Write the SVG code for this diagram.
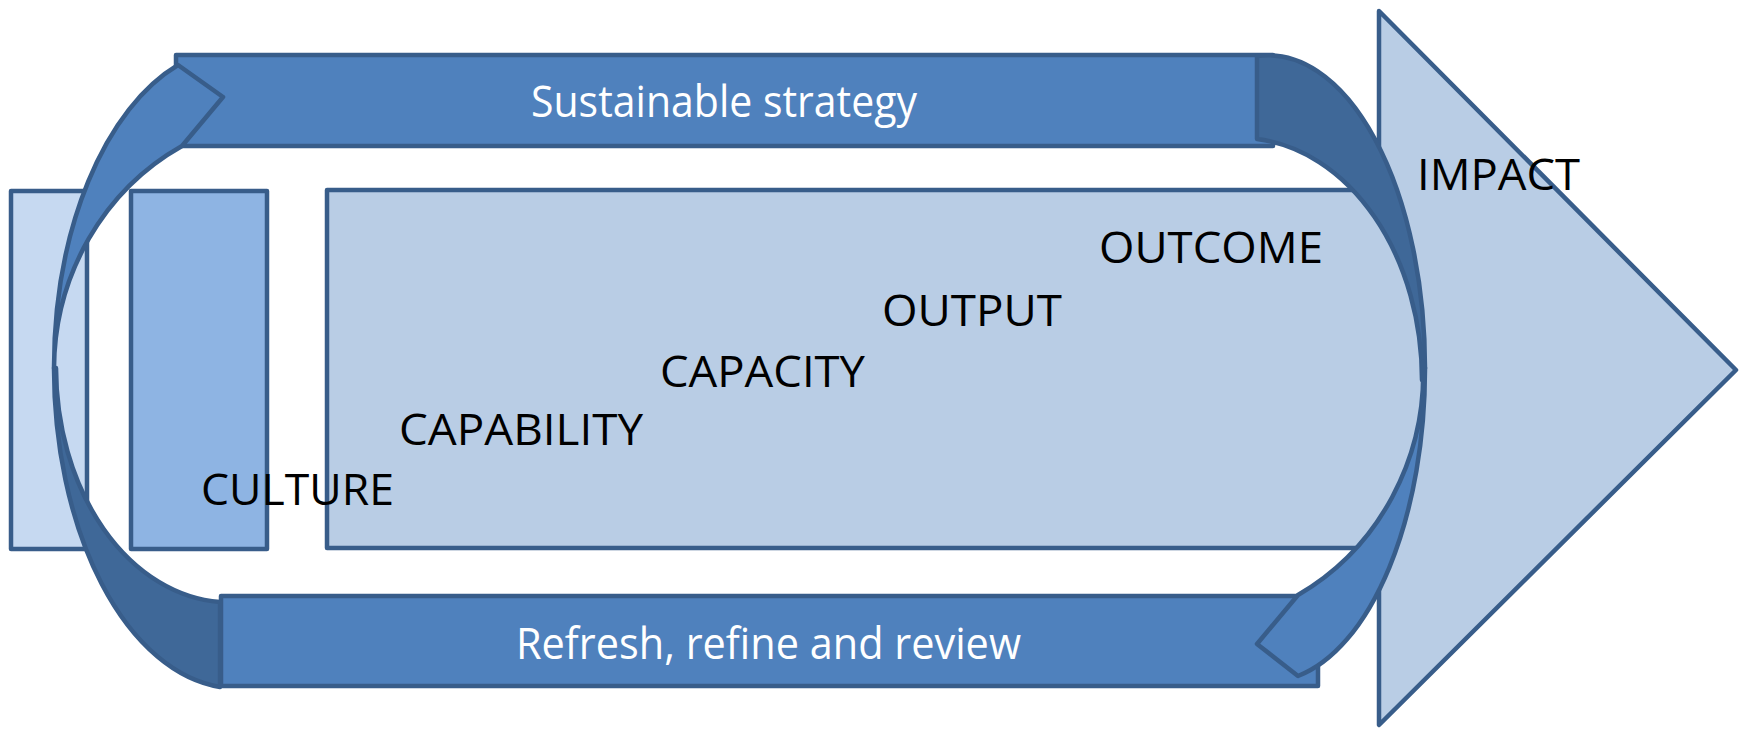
<svg xmlns="http://www.w3.org/2000/svg" width="1748" height="731" viewBox="0 0 1748 731">
<style>
.s{stroke:#385D8A;stroke-width:4.5;stroke-linejoin:round}
.lbl{font-family:"Open Sans","Liberation Sans",sans-serif;font-size:44px;fill:#000}
.wl{font-family:"Open Sans","Liberation Sans",sans-serif;font-size:43px;fill:#fff}
.bar{fill:#4F81BD}
.dark{fill:#3F6898}
.front{fill:#4F81BD}
</style>
<rect width="1748" height="731" fill="#fff"/>
<g id="impact-arrow"><polygon class="s" points="1379,11 1736,370 1379,725" fill="#B9CDE5"/></g>
<g id="rect-left"><rect class="s" x="11" y="191" width="76" height="358" fill="#C6D9F1"/></g>
<g id="rect-culture"><rect class="s" x="131" y="191" width="136" height="358" fill="#8EB4E3"/></g>
<g id="rect-main"><path class="s" d="M327,190 L1388,190 A168,290 0 0,1 1388,548 L327,548 Z" fill="#B9CDE5"/></g>
<g id="bar-top"><rect class="s bar" x="176" y="55" width="1097" height="91"/></g>
<g id="bar-bottom"><rect class="s bar" x="221" y="596" width="1097" height="90"/></g>
<g id="connectors">
<path class="s dark" d="M54,368 A183,320 0 0,0 220,687 L220,602 A174,235 0 0,1 56,368 Z"/>
<path class="s front" d="M178,65 A183,320 0 0,0 54,368 A244,254 0 0,1 182,146 L223,97 Z"/>
<path class="s dark" d="M1257,56 A157,313 0 0,1 1425,368 L1422,380 A182,242 0 0,0 1257,139 Z"/>
<path class="s front" d="M1425,368 A157,313 0 0,1 1298,676 L1257,644 L1298,595 A244,254 0 0,0 1423,362 Z"/>
</g>
<g id="text-strategy"><text class="wl" x="531" y="117" textLength="386" lengthAdjust="spacingAndGlyphs">Sustainable strategy</text></g>
<g id="text-refresh"><text class="wl" x="516" y="659" textLength="505" lengthAdjust="spacingAndGlyphs">Refresh, refine and review</text></g>
<g id="text-culture"><text class="lbl" x="201" y="505" textLength="193" lengthAdjust="spacingAndGlyphs">CULTURE</text></g>
<g id="text-capability"><text class="lbl" x="399" y="445" textLength="244" lengthAdjust="spacingAndGlyphs">CAPABILITY</text></g>
<g id="text-capacity"><text class="lbl" x="660" y="387" textLength="205" lengthAdjust="spacingAndGlyphs">CAPACITY</text></g>
<g id="text-output"><text class="lbl" x="882" y="326" textLength="180" lengthAdjust="spacingAndGlyphs">OUTPUT</text></g>
<g id="text-outcome"><text class="lbl" x="1099" y="263" textLength="224" lengthAdjust="spacingAndGlyphs">OUTCOME</text></g>
<g id="text-impact"><text class="lbl" x="1417" y="190" textLength="163" lengthAdjust="spacingAndGlyphs">IMPACT</text></g>
</svg>
